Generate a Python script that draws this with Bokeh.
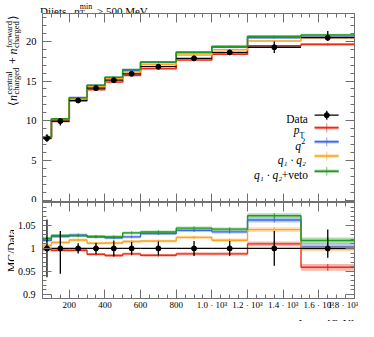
import math
from bokeh.plotting import figure
from bokeh.layouts import column, row
from bokeh.models import FixedTicker, Range1d, LinearAxis, Label, CustomLabelingPolicy
from bokeh.embed import file_html
from bokeh.resources import INLINE

# ---------------- data ----------------
bin_lo = [50, 100, 200, 300, 400, 500, 600, 800, 1000, 1200, 1500]
bin_hi = [100, 200, 300, 400, 500, 600, 800, 1000, 1200, 1500, 1800]
data_val = [7.80, 9.95, 12.55, 14.10, 15.10, 15.90, 16.80, 17.85, 18.60, 19.25, 20.45]
data_err_up = [0.49, 0.38, 0.14, 0.17, 0.26, 0.22, 0.25, 0.29, 0.30, 0.73, 0.84]
data_err_dn = [0.49, 0.55, 0.14, 0.17, 0.26, 0.22, 0.25, 0.29, 0.30, 0.73, 0.41]

mc_pt = [7.78, 9.91, 12.50, 13.92, 14.87, 15.71, 16.55, 17.64, 18.38, 19.44, 19.61]
mc_q2 = [7.94, 10.21, 12.91, 14.45, 15.45, 16.30, 17.34, 18.55, 19.27, 20.44, 20.53]
mc_q1q2 = [7.85, 10.08, 12.78, 14.26, 15.28, 16.14, 17.07, 18.28, 18.93, 20.04, 20.45]
mc_veto = [7.97, 10.23, 12.90, 14.47, 15.48, 16.44, 17.40, 18.64, 19.38, 20.62, 20.80]
mc_pt_err = [0.03, 0.03, 0.04, 0.04, 0.05, 0.05, 0.05, 0.06, 0.07, 0.10, 0.15]
mc_q2_err = [0.03, 0.03, 0.05, 0.04, 0.05, 0.05, 0.05, 0.06, 0.07, 0.10, 0.15]
mc_q1q2_err = [0.03, 0.03, 0.04, 0.04, 0.05, 0.05, 0.05, 0.06, 0.07, 0.10, 0.14]
mc_veto_err = [0.03, 0.03, 0.04, 0.04, 0.05, 0.05, 0.06, 0.06, 0.07, 0.10, 0.14]

x_ticks = [200, 400, 600, 800, 1000, 1200, 1400, 1600, 1800]
x_tick_labels = ["200", "400", "600", "800", "1.0 · 10³", "1.2 · 10³",
                 "1.4 · 10³", "1.6 · 10³", "1.8 · 10³"]
main_y_ticks = [0, 5, 10, 15, 20]
ratio_y_ticks = [0.9, 0.95, 1.0, 1.05]
ratio_y_labels = ["0.9", "0.95", "1", "1.05"]

series = [
    ("pt", mc_pt, mc_pt_err, "#EE2A14"),
    ("q2", mc_q2, mc_q2_err, "#3D66EE"),
    ("q1q2", mc_q1q2, mc_q1q2_err, "#FFA41C"),
    ("veto", mc_veto, mc_veto_err, "#1E9A1E"),
]

# ---------------- layout constants (page pixels) ----------------
X_LO, X_HI = 50, 1800
M_LO, M_HI = -0.3, 23.5
R_LO, R_HI = 0.891, 1.1
FRAME = "#707070"
FONT = "Liberation Serif"
W = 358
TITLE_H = 13
MAIN_H = 189          # main frame height
RATIO_FH = 99         # ratio frame height
RATIO_BOTTOM = 11
XLAB_H = 321 - TITLE_H - MAIN_H - RATIO_FH - RATIO_BOTTOM
YLAB1_W = 22
YLAB2_W = 14
PAGE0 = 8
FRAME_L = PAGE0 + 39               # page x of frame left
FRAME_R = PAGE0 + W - 4            # page x of frame right
MAIN_T = PAGE0 + TITLE_H           # page y of main frame top
MAIN_B = MAIN_T + MAIN_H
RATIO_B = MAIN_B + RATIO_FH
XLAB_T = RATIO_B + RATIO_BOTTOM


def mx(px):  # page pixel x -> data x
    return X_LO + (px - FRAME_L) * (X_HI - X_LO) / (FRAME_R - FRAME_L)


def my(py):  # page pixel y -> main-panel data y
    return M_HI - (py - MAIN_T) * (M_HI - M_LO) / MAIN_H


centers = [(a + b) / 2 for a, b in zip(bin_lo, bin_hi)]
edges = bin_lo + [bin_hi[-1]]

hide_policy = CustomLabelingPolicy(code="""
try { for (const i of Array.from(indices)) { indices.unset(i) } } catch (e) {}
return indices
""")


def style_axis(ax, show, size="10.5px", standoff=6):
    ax.axis_line_color = None
    ax.major_tick_in = 9
    ax.major_tick_out = 0
    ax.minor_tick_in = 4
    ax.minor_tick_out = 0
    ax.major_tick_line_color = FRAME
    ax.minor_tick_line_color = FRAME
    ax.major_tick_line_width = 1
    ax.minor_tick_line_width = 1
    if show:
        ax.major_label_text_font = FONT
        ax.major_label_text_font_size = size
        ax.major_label_text_color = "black"
        ax.major_label_standoff = standoff
    else:
        ax.major_label_text_font_size = "0px"
        ax.major_label_standoff = 0
        ax.major_label_policy = hide_policy


def base_fig(width, height, y_range, left, right, top, bottom):
    p = figure(width=width, height=height, x_range=Range1d(X_LO, X_HI), y_range=y_range,
               output_backend="svg", toolbar_location=None,
               min_border_left=left, min_border_right=right,
               min_border_top=top, min_border_bottom=bottom)
    p.title.visible = False
    p.xgrid.visible = False
    p.ygrid.visible = False
    p.outline_line_color = FRAME
    p.outline_line_width = 1
    p.background_fill_color = "white"
    p.border_fill_color = "white"
    return p


def strip(width, height, x0, x1, y0, y1, left=0, right=0, top=0, bottom=0):
    # a text-only panel whose frame maps page pixels (x0..x1, y0..y1 top->bottom)
    s = figure(width=width, height=height, x_range=Range1d(x0, x1),
               y_range=Range1d(y1, y0), output_backend="svg", toolbar_location=None,
               x_axis_location=None, y_axis_location=None, min_border=0,
               min_border_left=left, min_border_right=right,
               min_border_top=top, min_border_bottom=bottom)
    s.title.visible = False
    s.frame_align = False
    s.xgrid.visible = False
    s.ygrid.visible = False
    s.outline_line_color = None
    s.background_fill_color = "white"
    s.border_fill_color = "white"
    return s


def lab(p, x, y, text, size="12px", style="normal", align="left",
        baseline="alphabetic", angle=0.0):
    p.add_layout(Label(x=x, y=y, text=text, text_font=FONT, text_font_size=size,
                       text_font_style=style, text_align=align,
                       text_baseline=baseline, angle=angle, text_color="black"))


x_ticker = FixedTicker(ticks=x_ticks, minor_ticks=list(range(50, 1801, 50)))
x_over = {t: s for t, s in zip(x_ticks, x_tick_labels)}
A = math.pi / 2

# ---------------- title strip ----------------
ts = strip(W, TITLE_H, FRAME_L, FRAME_R, PAGE0, PAGE0 + TITLE_H, left=39, right=4)
lab(ts, 47.5, 18.0, "Dijets,", "11px")
lab(ts, 81.5, 18.0, "p", "11px", "italic")
lab(ts, 87.3, 14.4, "min", "8px")
lab(ts, 87.3, 20.6, "T", "8px")
lab(ts, 104.5, 18.0, "> 500 MeV", "11px")

# ---------------- main panel ----------------
p1 = base_fig(W - YLAB1_W, MAIN_H, Range1d(M_LO, M_HI), 39 - YLAB1_W, 4, 0, 0)
main_y_ticker = FixedTicker(ticks=main_y_ticks, minor_ticks=list(range(0, 24)))
p1.yaxis.ticker = main_y_ticker
style_axis(p1.yaxis[0], True, "10.5px", 6)
p1.xaxis.ticker = x_ticker
style_axis(p1.xaxis[0], False)
ax_r = LinearAxis(ticker=main_y_ticker)
style_axis(ax_r, False)
p1.add_layout(ax_r, "right")
ax_t = LinearAxis(ticker=x_ticker)
style_axis(ax_t, False)
p1.add_layout(ax_t, "above")

for name, vals, errs, col in series:
    p1.quad(left=bin_lo, right=bin_hi,
            bottom=[v - e for v, e in zip(vals, errs)],
            top=[v + e for v, e in zip(vals, errs)],
            fill_color=col, fill_alpha=0.35, line_color=None)
    p1.step(x=edges, y=vals + [vals[-1]], mode="after", line_color=col, line_width=1.6)
    p1.segment(x0=centers, x1=centers, y0=[v - e for v, e in zip(vals, errs)],
               y1=[v + e for v, e in zip(vals, errs)], line_color=col, line_width=1)

p1.segment(x0=bin_lo, x1=bin_hi, y0=data_val, y1=data_val, line_color="black", line_width=1.3)
p1.segment(x0=centers, x1=centers,
           y0=[v - e for v, e in zip(data_val, data_err_dn)],
           y1=[v + e for v, e in zip(data_val, data_err_up)],
           line_color="black", line_width=1.3)
p1.scatter(x=centers, y=data_val, size=5, color="black")

# legend (inside the main frame), positions in page pixels
rows = [122.7, 135.3, 149.3, 163.5, 178.7]
L0, L1, LC = mx(321.7), mx(346), mx(334)
lab(p1, mx(315), my(126.7), "Data", "11.5px", align="right")
p1.segment(x0=[L0], x1=[L1], y0=[my(rows[0])], y1=[my(rows[0])], line_color="black", line_width=1.3)
p1.segment(x0=[LC], x1=[LC], y0=[my(rows[0] - 4.5)], y1=[my(rows[0] + 4.5)], line_color="black", line_width=1.3)
p1.scatter(x=[LC], y=[my(rows[0])], size=5, color="black")
for (name, vals, errs, col), ry in zip(series, rows[1:]):
    p1.quad(left=[L0], right=[L1], bottom=[my(ry + 1.8)], top=[my(ry - 1.8)],
            fill_color=col, fill_alpha=0.35, line_color=None)
    p1.segment(x0=[L0], x1=[L1], y0=[my(ry)], y1=[my(ry)], line_color=col, line_width=1.6)
    p1.segment(x0=[LC], x1=[LC], y0=[my(ry - 4.5)], y1=[my(ry + 4.5)], line_color=col,
               line_width=1, line_alpha=0.6)
lab(p1, mx(306.5), my(137.5), "p", "11.5px", "italic", align="right")
lab(p1, mx(306.5), my(142.5), "T", "8px")
lab(p1, mx(308), my(153.5), "q", "11.5px", "italic", align="right")
lab(p1, mx(308.3), my(148), "2", "8px")
lab(p1, mx(313), my(167), "q₁ · q₂", "11.5px", "italic", align="right")
lab(p1, mx(315), my(182), "+veto", "11.5px", align="right")
lab(p1, mx(289), my(182), "q₁ · q₂", "11.5px", "italic", align="right")

# main y label strip (rotated text, reading upward), page pixels
y1s = strip(YLAB1_W, MAIN_H, PAGE0, PAGE0 + YLAB1_W, MAIN_T, MAIN_B)
lab(y1s, 20.5, 113, "⟨", "12px", angle=A)
lab(y1s, 20.5, 108.5, "n", "12px", "italic", angle=A)
lab(y1s, 16, 102, "central", "8.5px", angle=A)
lab(y1s, 23.5, 102, "charged", "8.5px", angle=A)
lab(y1s, 20.5, 71.5, "+", "12px", angle=A)
lab(y1s, 20.5, 62, "n", "12px", "italic", angle=A)
lab(y1s, 16, 55.5, "forward", "8.5px", angle=A)
lab(y1s, 23.5, 55.5, "charged", "8.5px", angle=A)
lab(y1s, 20.5, 27.5, "⟩", "12px", angle=A)

# ---------------- ratio panel ----------------
p2 = base_fig(W - YLAB2_W, RATIO_FH + RATIO_BOTTOM, Range1d(R_LO, R_HI),
              39 - YLAB2_W, 4, 0, RATIO_BOTTOM)
r_ticker = FixedTicker(ticks=ratio_y_ticks,
                       minor_ticks=[round(0.89 + 0.01 * i, 2) for i in range(22)])
p2.yaxis.ticker = r_ticker
p2.yaxis.major_label_overrides = {t: s for t, s in zip(ratio_y_ticks, ratio_y_labels)}
style_axis(p2.yaxis[0], True, "10px", 7)
p2.xaxis.ticker = x_ticker
p2.xaxis.major_label_overrides = x_over
style_axis(p2.xaxis[0], True, "9px", 1)
ax_r2 = LinearAxis(ticker=r_ticker)
style_axis(ax_r2, False)
p2.add_layout(ax_r2, "right")
ax_t2 = LinearAxis(ticker=x_ticker)
style_axis(ax_t2, False)
p2.add_layout(ax_t2, "above")

for name, vals, errs, col in series:
    rat = [v / d for v, d in zip(vals, data_val)]
    rerr = [e / d for e, d in zip(errs, data_val)]
    p2.quad(left=bin_lo, right=bin_hi,
            bottom=[r - e for r, e in zip(rat, rerr)], top=[r + e for r, e in zip(rat, rerr)],
            fill_color=col, fill_alpha=0.35, line_color=None)
    p2.step(x=edges, y=rat + [rat[-1]], mode="after", line_color=col, line_width=1.4)
    p2.segment(x0=centers, x1=centers, y0=[r - e for r, e in zip(rat, rerr)],
               y1=[r + e for r, e in zip(rat, rerr)], line_color=col, line_width=1)

ones = [1.0] * len(data_val)
p2.segment(x0=bin_lo, x1=bin_hi, y0=ones, y1=ones, line_color="black", line_width=1.3)
p2.segment(x0=centers, x1=centers,
           y0=[1 - e / d for e, d in zip(data_err_dn, data_val)],
           y1=[1 + e / d for e, d in zip(data_err_up, data_val)],
           line_color="black", line_width=1.3)
p2.scatter(x=centers, y=ones, size=5, color="black")

y2s = strip(YLAB2_W, RATIO_FH + RATIO_BOTTOM, PAGE0, PAGE0 + YLAB2_W, MAIN_B, RATIO_B,
            bottom=RATIO_BOTTOM)
lab(y2s, 19.5, 258, "MC/Data", "11.5px", align="center", angle=A)

# ---------------- x label strip ----------------
xs = strip(W, XLAB_H, FRAME_L, FRAME_R, XLAB_T, XLAB_T + XLAB_H, left=39, right=4)
lab(xs, 317, XLAB_T + 7.6, "Jet", "10.5px", align="right")
lab(xs, 319, XLAB_T + 7.6, "p", "10.5px", "italic")
lab(xs, 324.7, XLAB_T + 8.8, "T", "7.5px")
lab(xs, 361.5, XLAB_T + 7.6, "[GeV]", "10.5px", align="right")

layout = column(ts, row(y1s, p1, spacing=0), row(y2s, p2, spacing=0), xs, spacing=0)
open("out.html", "w").write(file_html(layout, INLINE))
